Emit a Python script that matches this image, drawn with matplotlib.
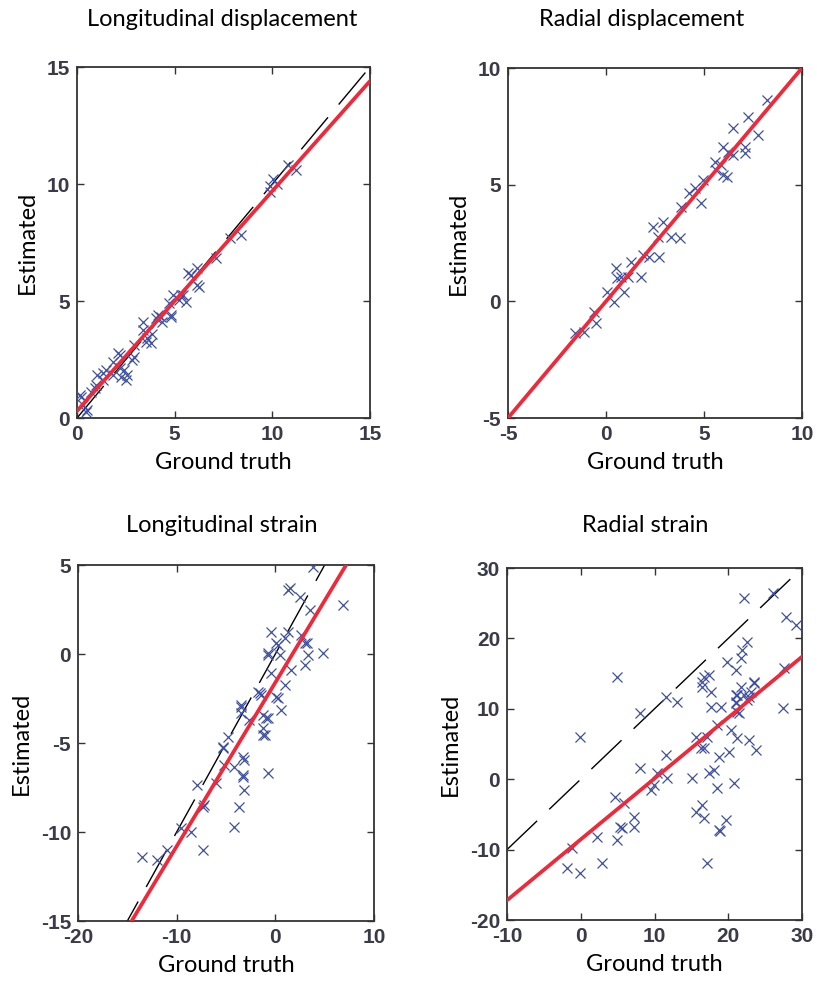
import numpy as np
import matplotlib
matplotlib.use("Agg")
import matplotlib.pyplot as plt

plt.rcParams["axes.unicode_minus"] = False

# ---- data ----
titles = ["Longitudinal displacement", "Radial displacement",
          "Longitudinal strain", "Radial strain"]

gt_long_disp = [0.15, 0.2, 0.5, 0.46, 0.3, 0.92, 0.98, 0.72, 1.0, 1.34, 1.32, 1.49,
                1.85, 1.83, 2.2, 2.09, 2.2, 2.55, 2.26, 2.52, 2.4, 2.8, 2.93, 2.9,
                3.4, 3.37, 3.6, 3.54, 3.85, 3.8, 4.15, 4.06, 4.35, 4.3, 4.8, 4.83,
                4.9, 4.72, 5.3, 5.23, 5.43, 5.6, 5.7, 5.85, 6.15, 6.15, 6.27, 7.1,
                7.85, 8.4, 9.9, 10.05, 10.25, 9.9, 10.8, 11.2]
est_long_disp = [0.98, 0.91, 0.34, 0.27, 0.55, 1.28, 1.41, 1.12, 1.84, 1.62, 1.92, 2.05,
                 1.84, 2.4, 2.14, 2.78, 2.7, 1.84, 1.76, 1.62, 2.05, 2.48, 2.62, 3.1,
                 4.1, 3.76, 3.4, 3.26, 3.6, 3.2, 4.4, 4.27, 4.1, 4.33, 4.4, 4.33,
                 5.25, 4.91, 5.25, 5.04, 5.26, 4.95, 6.2, 6.1, 6.4, 5.7, 5.6, 6.85,
                 7.7, 7.8, 9.9, 10.2, 10.0, 9.65, 10.8, 10.6]

gt_rad_disp = [-1.56, -1.13, -0.62, -0.53, 0.07, 0.41, 0.5, 0.58, 0.75, 0.92, 1.1, 1.27,
               1.78, 1.87, 2.2, 2.72, 2.38, 2.9, 2.64, 3.32, 3.75, 3.83, 4.26, 4.52,
               4.86, 4.95, 5.63, 5.89, 5.97, 5.97, 6.49, 7.08, 7.08, 6.49, 7.26, 7.77,
               8.2, 6.23, 5.54, 6.15]
est_rad_disp = [-1.37, -1.3, -0.44, -0.94, 0.41, -0.02, 1.41, 0.99, 1.06, 0.41, 1.06, 1.7,
                1.06, 1.99, 1.91, 1.91, 3.2, 3.41, 2.77, 2.77, 2.7, 4.06, 4.63, 4.84,
                4.2, 5.2, 5.63, 5.84, 5.41, 6.63, 6.27, 6.63, 6.34, 7.42, 7.91, 7.13,
                8.63, 6.41, 5.98, 5.34]

gt_long_strain = [3.85, 1.46, 1.29, 2.48, 3.5, 6.9, -0.41, 1.29, 0.95, 0.27, 0.1, -0.75,
                  -0.75, 0.44, 3.16, 2.99, 3.33, 4.86, 2.65, 1.63, 2.99, -0.41, -1.43, -1.6,
                  0.95, 0.27, 0.1, 0.61, -3.47, -3.47, -3.47, -2.62, -1.26, -0.92, -0.75, -1.26,
                  -1.09, -1.26, -4.83, -5.34, -5.34, -4.15, -5.17, -3.13, -3.3, -3.3, -3.3, -3.13,
                  -3.64, -4.15, -0.75, -6.02, -7.89, -7.2, -7.38, -9.59, -8.57, -7.38, -13.5, -11.97,
                  -10.95, -1.77]
est_long_strain = [4.9, 3.69, 3.6, 3.22, 2.47, 2.75, 1.25, 1.25, 0.88, 0.5, 0.6, 0.04,
                   -0.06, -0.06, 0.6, 0.6, -0.06, 0.04, 1.07, -0.9, -0.62, -1.08, -2.3, -2.21,
                   -1.74, -2.49, -2.4, -3.15, -2.96, -2.87, -3.33, -3.71, -3.43, -3.61, -3.61, -4.17,
                   -4.55, -4.55, -4.65, -5.3, -5.2, -6.33, -6.24, -5.96, -5.77, -6.89, -6.8, -7.64,
                   -8.58, -9.7, -6.7, -7.26, -7.36, -8.48, -8.58, -9.79, -9.98, -11.01, -11.38, -11.57,
                   -11.01, -2.12]

gt_rad_strain = [-1.88, -0.07, -1.2, 2.2, 2.88, 4.93, 5.37, 5.6, 4.69, 5.82, 7.18, 7.18,
                 8.1, 9.46, 9.9, 10.37, 11.73, 11.5, 8.1, 4.93, -0.07, 11.5, 13.09, 15.13,
                 15.58, 16.26, 16.71, 16.49, 16.7, 15.58, 17.17, 17.39, 18.07, 18.53, 18.75, 18.85,
                 19.66, 18.75, 20.1, 20.8, 16.49, 17.39, 16.71, 17.62, 17.62, 18.98, 18.53, 20.34,
                 21.25, 19.89, 21.0, 21.0, 21.7, 22.15, 22.6, 21.47, 21.93, 22.6, 22.15, 21.7,
                 22.83, 23.74, 23.5, 23.06, 26.0, 27.37, 27.82, 29.18, 27.6, 21.25, 17.17, 16.49,
                 21.02, 21.02, 22.83, 23.5, 21.25]
est_rad_strain = [-12.66, -13.37, -9.82, -8.17, -11.95, -8.64, -6.74, -6.98, -2.49, -3.43, -5.32, -6.74,
                  1.55, -1.53, -0.82, 0.84, 0.13, 3.44, 9.36, 14.56, 6.04, 11.72, 11.0, 0.13,
                  6.04, 4.4, 4.4, -3.66, -5.55, -4.6, -11.95, 0.84, 1.3, -1.3, -7.22, -7.3,
                  -5.8, 3.2, 3.9, -0.58, 13.85, 14.8, 14.56, 12.43, 10.3, 10.3, 7.7, 6.99,
                  5.81, 16.7, 15.5, 10.78, 13.14, 11.96, 11.25, 9.36, 18.35, 19.53, 25.7, 17.17,
                  5.57, 4.15, 13.62, 12.43, 26.4, 10.07, 23.08, 21.9, 15.75, 11.96, 6.04, 13.14,
                  11.96, 11.0, 11.72, 13.85, 9.6]

# regression lines (slope, intercept)
fit_slope = [0.94, 1.0, 0.92, 0.865]
fit_icept = [0.3, 0.0, -1.6, -8.55]

xlims = [(0, 15), (-5, 10), (-20, 10), (-10, 30)]
ylims = [(0, 15), (-5, 10), (-15, 5), (-20, 30)]
xticks = [[0, 5, 10, 15], [-5, 0, 5, 10], [-20, -10, 0, 10], [-10, 0, 10, 20, 30]]
yticks = [[0, 5, 10, 15], [-5, 0, 5, 10], [-15, -10, -5, 0, 5], [-20, -10, 0, 10, 20, 30]]

gts = [gt_long_disp, gt_rad_disp, gt_long_strain, gt_rad_strain]
ests = [est_long_disp, est_rad_disp, est_long_strain, est_rad_strain]

W, H = 817, 988
fig = plt.figure(figsize=(W / 100, H / 100), dpi=100)

# axes boxes in pixels: left, top, right, bottom
boxes = [(77, 67, 370, 418), (508, 68, 802, 418),
         (78, 565, 374, 921), (507, 568, 802, 920)]
title_pos = [(222, 20), (642, 20), (222, 525), (645, 525)]

label_font = "Lato"
tick_font = "Liberation Sans"

for i in range(4):
    l, t, r, b = boxes[i]
    ax = fig.add_axes([l / W, 1 - b / H, (r - l) / W, (b - t) / H])
    xs = np.array(xlims[i])
    ax.plot(xs, xs, color="black", lw=1.0, dashes=(30, 12), zorder=2)
    ax.plot(gts[i], ests[i], "x", color="#3d4fa3", ms=7, mew=0.9, zorder=3)
    ax.plot(xs, fit_slope[i] * xs + fit_icept[i], color="#ee2a3a", lw=2.7, zorder=4)
    ax.set_xlim(xlims[i])
    ax.set_ylim(ylims[i])
    ax.set_xticks(xticks[i])
    ax.set_yticks(yticks[i])
    ax.tick_params(direction="in", top=True, right=True, length=5, width=1.0,
                   labelsize=15, colors="#333333", pad=5)
    for lab in ax.get_xticklabels() + ax.get_yticklabels():
        lab.set_fontfamily(tick_font)
        lab.set_fontweight("bold")
        lab.set_color("#3a3a48")
    for sp in ax.spines.values():
        sp.set_linewidth(1.3)
        sp.set_color("#333333")
    ax.set_xlabel("Ground truth", family=label_font, fontsize=17, labelpad=6)
    ax.set_ylabel("Estimated", family=label_font, fontsize=17, labelpad=6)
    tx, ty = title_pos[i]
    fig.text(tx / W, 1 - ty / H, titles[i], family=label_font, fontsize=17,
             ha="center", va="center")

fig.savefig("out.png", dpi=100)
